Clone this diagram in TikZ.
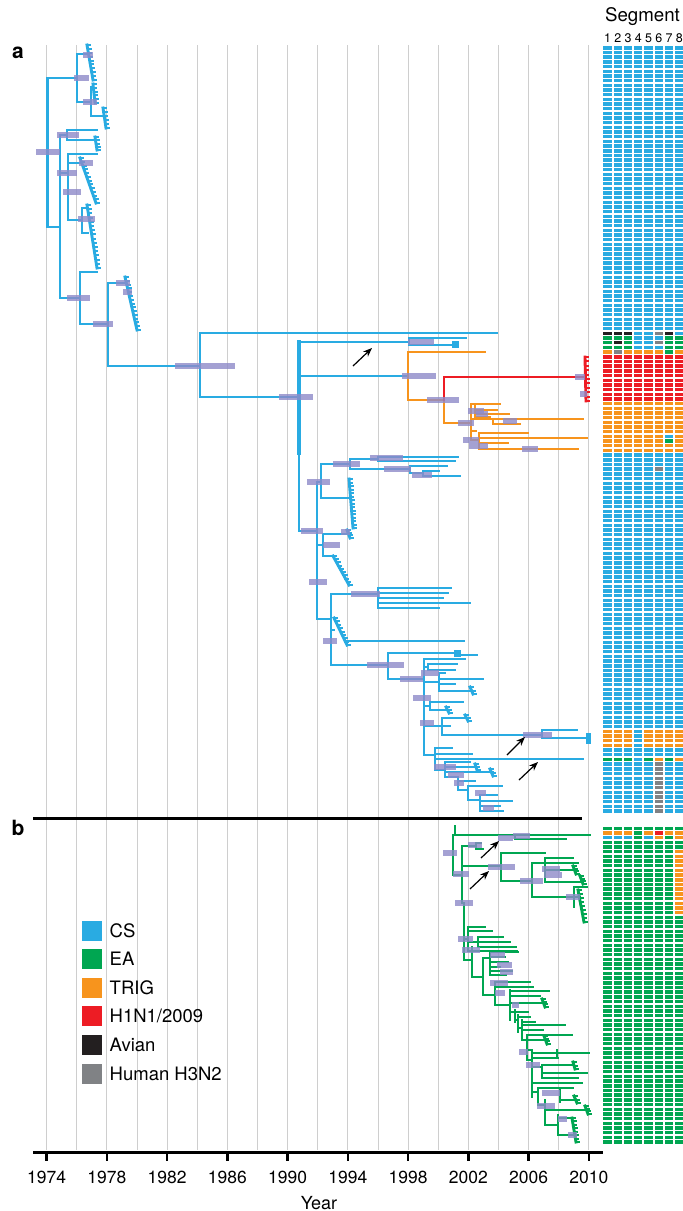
\documentclass[tikz,border=0pt]{standalone}
\usepackage{fontspec}
\setmainfont{TeX Gyre Heros}
\usetikzlibrary{calc,arrows.meta}
\definecolor{csc}{RGB}{41,171,226}
\definecolor{eac}{RGB}{0,166,81}
\definecolor{trc}{RGB}{247,148,29}
\definecolor{h1c}{RGB}{237,28,36}
\definecolor{avc}{RGB}{35,31,32}
\definecolor{huc}{RGB}{128,130,133}
\definecolor{barc}{RGB}{142,138,200}
\definecolor{gridc}{RGB}{206,206,206}
\newcommand\legfont{\fontsize{18.5}{20}\selectfont}
\newcommand\tickfont{\fontsize{17.5}{19}\selectfont}
\newcommand\tcl[5][tcs]{\draw[#1] (#2,#3) -- (#2,#4); \foreach \cx/\cy in {#5} {\draw[#1] (#2,\cy) -- (\cx,\cy);}}
\newcommand\tcomb[6][tcs]{\draw[#1] (#2,#3) -- (#4,#5); \foreach \k in {0,...,#6} {\draw[#1,line width=2] ($(#2,#3)!{\k/#6}!(#4,#5)$) -- ++(3,0);}}
\newcommand\tbar[3]{\fill[barc,opacity=.8] (#1,{#3-2.6}) rectangle (#2,{#3+2.6});}
\newcommand\trow[3]{\foreach \c [count=\j from 0] in {#3} {\fill[\c] ({603.3+10.25*\j},{#1+4.682*#2}) rectangle ++(8.4,3.4);}}
\newcommand\tleg[4]{\fill[#2] (82,#1) rectangle (102,{#1+20}); \node[anchor=base west,font=\legfont,inner sep=0] (#4) at (109.5,{#1+16.6}) {#3};}
\begin{document}
\begin{tikzpicture}[x=1pt,y=-1pt,
  tcs/.style={draw=csc,line width=2.9,line cap=rect},
  tea/.style={draw=eac,line width=2.9,line cap=rect},
  ttr/.style={draw=trc,line width=2.9,line cap=rect},
  th1/.style={draw=h1c,line width=2.9,line cap=rect},
  arr/.style={draw=black,line width=1.2,-{Stealth[length=9,width=7]}}]
\useasboundingbox (0,0) rectangle (683,1211);
\fill[white] (0,0) rectangle (683,1211);
% grid lines
\foreach \k in {0,...,18} {\draw[gridc,line width=0.9] ({46.7+30.12*\k},45) -- ({46.7+30.12*\k},1150);}
% labels
\node[anchor=base,font=\bfseries\fontsize{21}{21}\selectfont,inner sep=0] (la) at (18,58.3) {a};
\node[anchor=base,font=\bfseries\fontsize{21}{21}\selectfont,inner sep=0] (lb) at (18,835) {b};
\node[anchor=base,font=\fontsize{18.7}{20}\selectfont,inner sep=0] (seg) at (642.5,21.7) {Segment};
\foreach \j in {1,...,8} {\node[anchor=base,font=\fontsize{12.5}{13}\selectfont,inner sep=0] (d\j) at ({607.5+10.25*(\j-1)},42.7) {\j};}
% segment grid part a
\foreach \j in {0,...,7} {\foreach \i in {0,...,163} {\fill[csc] ({603.3+10.25*\j},{46.1+4.682*\i}) rectangle ++(8.4,3.4);}}
\trow{46.1}{61}{avc,avc,avc,csc,csc,huc,avc,csc}
\trow{46.1}{62}{eac,eac,eac,csc,csc,csc,eac,eac}
\trow{46.1}{63}{eac,avc,eac,csc,csc,huc,eac,eac}
\trow{46.1}{64}{eac,eac,eac,csc,csc,csc,eac,eac}
\trow{46.1}{65}{trc,huc,trc,trc,trc,trc,eac,trc}
\foreach \i in {66,...,75} {\trow{46.1}{\i}{h1c,h1c,h1c,h1c,h1c,h1c,h1c,h1c}}
\foreach \i in {76,...,86} {\trow{46.1}{\i}{trc,trc,trc,trc,trc,trc,trc,trc}}
\trow{46.1}{83}{trc,trc,trc,trc,trc,trc,csc,trc}
\trow{46.1}{84}{trc,trc,trc,trc,trc,trc,eac,trc}
\trow{46.1}{90}{csc,csc,csc,csc,csc,huc,csc,csc}
\foreach \i in {146,...,149} {\trow{46.1}{\i}{trc,trc,trc,csc,trc,trc,trc,trc}}
\trow{46.1}{152}{eac,eac,eac,csc,eac,trc,eac,trc}
\foreach \i in {153,...,163} {\trow{46.1}{\i}{csc,csc,csc,csc,csc,huc,csc,csc}}
% segment grid part b
\foreach \j in {0,...,7} {\foreach \i in {0,...,67} {\fill[eac] ({603.3+10.25*\j},{826.6+4.682*\i}) rectangle ++(8.4,3.4);}}
\trow{826.6}{1}{trc,trc,trc,eac,trc,h1c,trc,trc}
\trow{826.6}{2}{csc,csc,csc,eac,csc,trc,eac,trc}
\foreach \i in {5,...,18} {\fill[trc] (675.05,{826.6+4.682*\i}) rectangle ++(8.4,3.4);}
% ---------- tree a ----------
\tcl{47.5}{78}{227}{77/78, 60/227}
\tcl{77}{54}{102}{87/54, 91/102}
\tcomb{87}{45}{93}{80}{9}
\tcl{91}{87}{116}{93/87, 103/116}
\tcomb{93}{84}{95}{103}{5}
\tcomb{103}{108}{106}{128}{5}
\tcl{60}{135}{298}{67/135, 68/173, 80/298}
\tcl{67}{130}{140}{97/130, 95/140}
\tcomb{95}{137}{97}{150}{4}
\tcl{68}{154}{220}{97/154, 80/163, 82/220}
\tcomb{80}{158}{96}{203}{12}
\tcl{82}{208}{233}{87/208, 88/233}
\tcomb{87}{205}{97}{268}{15}
\tcl{80}{272}{324}{97/272, 108/324}
\tcl{108}{283}{366}{125/283, 200/366}
\tcomb{125}{277}{137}{330}{14}
\tcl{200}{333}{397}{497/333, 299/397}
\draw[tcs,line width=4.5] (299,342) -- (299,453);
\tcl{299}{342}{531}{409/342, 408/376, 317/531}
\tcl{409}{338}{345}{466/338, 453/345}
\fill[csc] (452,341) rectangle (459,348);
% TRIG / H1N1
\tcl[ttr]{408}{352}{400}{485/352, 444/400}
\draw[ttr] (444,400) -- (444,423) -- (471,423);
\draw[th1] (444,400) -- (444,377) -- (586,377);
\tcomb[th1]{585}{357}{586}{401}{10}
\tcl[ttr]{471}{404}{440}{475/404, 493/419, 476/431, 479/440}
\tcl[ttr]{475}{404}{417}{500/404, 497/410, 509/414, 490/417}
\tcl[ttr]{493}{419}{424}{583/419, 520/424}
\tcl[ttr]{479}{433}{449}{528/433, 587/438, 508/443, 578/449}
% lower CS clades
\tcl{317}{482}{619}{321/482, 323/545, 331/619}
\tcl{321}{464}{498}{350/464, 351/498}
\tcl{350}{459}{469}{378/459, 410/469}
\tcl{378}{457}{461}{458/457, 455/461}
\tcl{410}{466}{473}{447/466, 423/473}
\tcl{423}{471}{476}{439/471, 460/476}
\tcomb{349}{479}{353}{528}{14}
\tcl{323}{534}{556}{350/534, 333/556}
\tcomb{347}{530}{350}{538}{3}
\tcomb{333}{556}{349}{585}{9}
\tcl{331}{594}{665}{378/594, 334/630, 388/665}
\tcl{378}{588}{608}{451/588, 448/593, 443/598, 470/603, 439/608}
\tcomb{334}{618}{347}{645}{8}
\draw[tcs] (345,641) -- (464,641);
\tcl{388}{653}{679}{455/653, 424/679}
\draw[tcs] (455,655) -- (477,655);
\fill[csc] (454,650) rectangle (461,657);
\tcl{424}{659}{755}{465/659, 428/667, 439/682, 430/706, 442/726, 435/755}
\tcl{428}{664}{670}{457/664, 455/670}
\tcl{439}{673}{691}{445/673, 483/679, 455/684, 475/691}
\tcomb{470}{687}{473}{694}{2}
\tcl{430}{702}{710}{463/702, 448/710}
\tcomb{446}{707}{449}{713}{2}
\tcl{442}{718}{735}{468/718, 450/726, 542/735}
\tcomb{465}{715}{468}{721}{2}
\tcl{542}{730}{738}{577/730, 588/738}
\fill[csc] (586,733) rectangle (591,744);
\tcl{435}{748}{770}{452/748, 472/754, 583/759, 445/770}
\tcl{445}{762}{777}{470/762, 477/767, 493/772, 458/777}
\tcomb{475}{764}{477}{770}{2}
\tcomb{490}{769}{493}{776}{2}
\tcl{458}{777}{790}{475/781, 468/790}
\tcl{468}{786}{800}{502/786, 480/800}
\tcl{480}{795}{811}{497/795, 512/801, 500/806, 503/811}
% bars a
\foreach \a/\b/\c in {36/60/152, 74/89/78, 83/93/55, 83/97/102, 57/79/135, 57/77/173, 63/81/192, 79/93/163, 78/95/219, 67/90/298, 93/113/324, 116/130/283, 123/132/292, 175/235/366, 279/313/397, 408/434/342, 402/436/376, 427/459/400, 575/585/377, 580/587/394, 458/474/423, 468/484/411, 476/488/414, 503/517/421, 463/479/440, 469/488/446, 522/538/449, 301/323/531, 307/330/482, 333/360/464, 370/403/458, 384/411/469, 412/432/475, 323/340/545, 341/350/532, 309/327/582, 351/380/594, 323/337/641, 367/404/665, 400/423/679, 421/439/673, 413/431/698, 420/434/723, 523/552/735, 434/456/767, 448/464/775, 454/464/783, 475/486/793, 483/494/808} {\tbar{\a}{\b}{\c}}
\draw[arr] (353,366) -- (372,348);
\draw[arr] (507,755) -- (525,737);
\draw[arr] (519,780) -- (538,762);
% separator
\draw[line width=3,black] (33,818) -- (582,818);
% ---------- tree b ----------
\draw[tea] (455,826) -- (455,835);
\tcl[tea]{453}{835}{875}{515/835, 462/875}
\draw[tea] (515,835) -- (590,835);
\tcl[tea]{515}{835}{839}{566/839}
\tcl[tea]{462}{846}{903}{476/846, 501/866, 464/903}
\tcl[tea]{476}{843}{849}{481/843, 483/849}
\tcl[tea]{501}{853}{881}{545/853, 532/881}
\tcl[tea]{532}{863}{897}{545/863, 574/897}
\tcl[tea]{545}{858}{882}{573/858, 578/863, 574/870, 583/882}
\tcomb[tea]{573}{866}{576}{874}{3}
\tcomb[tea]{580}{876}{583}{884}{3}
\tcl[tea]{574}{887}{907}{587/887, 580/897}
\tcomb[tea]{578}{890}{584}{922}{8}
\draw[tea] (464,903) -- (464,960) -- (472,960);
\tcl[tea]{468}{927}{951}{485/927, 492/931, 478/942, 517/951}
\draw[tea] (464,939) -- (468,939);
\tcl[tea]{478}{937}{947}{503/937, 510/942, 516/947}
\draw[tea] (472,947) -- (472,977) -- (483,977);
\tcl[tea]{483}{958}{995}{490/958, 495/995}
\tcl[tea]{490}{952}{975}{518/952, 505/957, 508/962, 500/967, 512/971, 506/975}
\tcl[tea]{495}{982}{1005}{530/982, 533/987, 510/1005}
\tcl[tea]{510}{990}{1020}{549/991, 540/996, 545/1003, 515/1012}
\tcomb[tea]{542}{999}{545}{1007}{3}
\tcl[tea]{515}{1010}{1022}{528/1012, 518/1020}
\tcl[tea]{518}{1015}{1032}{530/1017, 522/1028}
\tcl[tea]{522}{1020}{1040}{535/1022, 565/1025, 543/1030, 527/1040}
\tcl[tea]{527}{1035}{1060}{572/1035, 547/1040, 530/1050, 532/1060}
\tcomb[tea]{544}{1036}{547}{1044}{3}
\tcl[tea]{532}{1050}{1097}{557/1053, 558/1058, 542/1067, 582/1083, 538/1092}
\tcl[tea]{557}{1050}{1058}{589/1053}
\tcl[tea]{542}{1065}{1078}{573/1065, 587/1073, 578/1078}
\tcomb[tea]{573}{1062}{575}{1069}{2}
\tcl[tea]{538}{1088}{1105}{560/1088, 545/1105}
\tcl[tea]{560}{1088}{1102}{573/1088, 577/1100}
\tcomb[tea]{574}{1096}{577}{1103}{2}
\tcl[tea]{545}{1100}{1125}{588/1110, 558/1125}
\tcomb[tea]{585}{1106}{588}{1114}{3}
\tcl[tea]{558}{1115}{1135}{572/1118, 573/1135}
\tcomb[tea]{572}{1118}{576}{1142}{7}
% bars b
\foreach \a/\b/\c in {443/457/853, 513/530/836, 498/513/838, 453/469/874, 468/482/845, 488/515/867, 520/543/881, 542/560/869, 544/562/875, 566/580/897, 455/473/903, 458/473/939, 462/480/950, 490/505/955, 497/512/965, 500/513/972, 490/508/983, 495/505/993, 512/519/1005, 519/528/1052, 526/540/1065, 537/555/1106, 542/560/1093, 558/567/1119, 568/577/1135} {\tbar{\a}{\b}{\c}}
\draw[arr] (481,858) -- (499,841);
\draw[arr] (470,889) -- (489,871);
% legend
\tleg{920.5}{csc}{CS}{lcs}
\tleg{949.3}{eac}{EA}{lea}
\tleg{977.7}{trc}{TRIG}{ltr}
\tleg{1006}{h1c}{H1N1/2009}{lh1}
\tleg{1035}{avc}{Avian}{lav}
\tleg{1064}{huc}{Human H3N2}{lhu}
% axis
\draw[line width=3,black] (33,1152) -- (603,1152);
\foreach \m in {0,...,9} {
  \pgfmathtruncatemacro\yr{1974+4*\m}
  \draw[line width=2.5,black] ({46.7+60.24*\m},1152) -- ++(0,9);
  \node[anchor=base,font=\tickfont,inner sep=0] (t\m) at ({46.7+60.24*\m},1183) {\yr};
}
\node[anchor=base,font=\fontsize{18}{19}\selectfont,inner sep=0] (year) at (319,1209) {Year};
\end{tikzpicture}
\end{document}
